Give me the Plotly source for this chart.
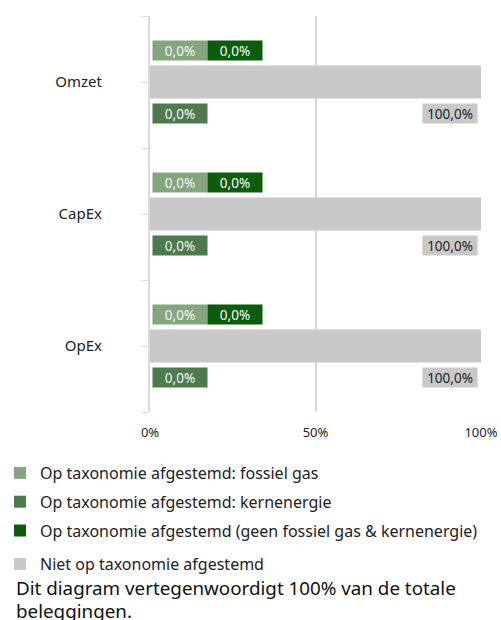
import plotly.graph_objects as go

categories = ["Omzet", "CapEx", "OpEx"]
series_names = [
    "Op taxonomie afgestemd: fossiel gas",
    "Op taxonomie afgestemd: kernenergie",
    "Op taxonomie afgestemd (geen fossiel gas & kernenergie)",
    "Niet op taxonomie afgestemd",
]
fossiel_gas = [0.0, 0.0, 0.0]
kernenergie = [0.0, 0.0, 0.0]
geen = [0.0, 0.0, 0.0]
niet = [100.0, 100.0, 100.0]
x_ticks = [0, 50, 100]
x_tick_labels = ["0%", "50%", "100%"]
footer_lines = ["Dit diagram vertegenwoordigt 100% van de totale", "beleggingen."]

colors = ["#85a581", "#4e7a50", "#0c5c0c", "#c8c8c8"]
label_text_colors = ["#f4f7f4", "#f4f7f4", "white", "#222222"]
FONT = "Noto Sans"

W, H = 501, 620
ML, MR, MT, MB = 150, 20, 16, 208
PW, PH = W - ML - MR, H - MT - MB

ypos = list(range(len(categories)))
all_series = [fossiel_gas, kernenergie, geen, niet]
row_offset = [-0.24, 0.24, -0.24, 0.24]
bar_offset = [-0.24, 0.24, -0.24, 0.0]

fig = go.Figure()
for i, (name, vals) in enumerate(zip(series_names, all_series)):
    fig.add_trace(go.Bar(
        x=vals,
        y=[p + bar_offset[i] for p in ypos],
        orientation="h",
        width=0.25,
        name=name,
        marker=dict(color=colors[i], line=dict(width=0)),
        legend="legend" if i < 3 else "legend2",
        legendgroup=f"g{i}",
        hoverinfo="skip",
    ))

def fmt(v):
    return f"{v:.1f}".replace(".", ",") + "%"

for i, vals in enumerate(all_series):
    for p, v in zip(ypos, vals):
        if i == 3:
            xa, xanchor, xshift = v, "right", -3
        else:
            xa, xanchor = 0, "left"
            xshift = 57 if i == 2 else 2
        fig.add_annotation(
            x=xa, y=p + row_offset[i], xref="x", yref="y",
            text=fmt(v), showarrow=False,
            xanchor=xanchor, yanchor="middle", xshift=xshift,
            width=54, height=19, borderpad=0,
            bgcolor=colors[i],
            font=dict(family=FONT, size=13.5, color=label_text_colors[i]),
        )

for line, yc in zip(footer_lines, [588, 611]):
    fig.add_annotation(
        x=(14 - ML) / PW, y=(H - MB - yc) / PH, xref="paper", yref="paper",
        xanchor="left", yanchor="middle", align="left",
        text=line, showarrow=False,
        font=dict(family=FONT, size=18.8, color="#111111"),
    )

legend_common = dict(
    xref="container", yref="container",
    xanchor="left", yanchor="top",
    font=dict(family=FONT, size=16, color="#222222"),
    itemwidth=30, bgcolor="rgba(0,0,0,0)",
)

fig.update_layout(
    width=W, height=H,
    margin=dict(l=ML, r=MR, t=MT, b=MB, autoexpand=False),
    paper_bgcolor="white", plot_bgcolor="white",
    barmode="overlay",
    showlegend=True,
    legend=dict(x=0, y=1 - 456 / H, tracegroupgap=5, **legend_common),
    legend2=dict(x=0, y=1 - 547 / H, **legend_common),
    xaxis=dict(
        range=[0, 100], tickvals=x_ticks, ticktext=x_tick_labels,
        showgrid=True, gridcolor="#d9d9d9", gridwidth=2,
        zeroline=False, showline=False, ticks="",
        tickfont=dict(family=FONT, size=13, color="#222222"),
        ticklabelstandoff=11,
        automargin=False, fixedrange=True,
    ),
    yaxis=dict(
        range=[len(categories) - 0.5, -0.5],
        tickvals=ypos, ticktext=categories,
        showgrid=False, zeroline=False,
        showline=True, linecolor="#d9d9d9", linewidth=2,
        ticks="outside", ticklen=6, tickcolor="#d9d9d9", tickwidth=1,
        minor=dict(tickvals=[p - 0.5 for p in ypos] + [ypos[-1] + 0.5],
                   ticks="outside", ticklen=6, tickcolor="#d9d9d9", tickwidth=1),
        ticklabelstandoff=37,
        tickfont=dict(family=FONT, size=15, color="#222222"),
        automargin=False, fixedrange=True,
    ),
)
fig.write_html(
    "out.html",
    config={"displayModeBar": False, "staticPlot": True},
    post_script="document.body.style.margin='0';document.body.style.overflow='hidden';",
)
